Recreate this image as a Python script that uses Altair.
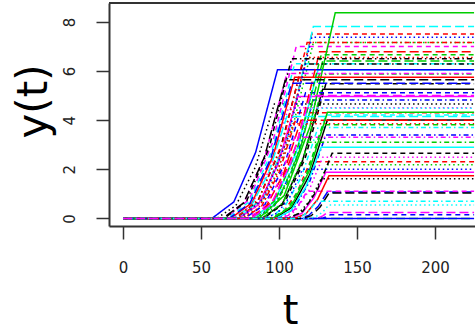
import altair as alt
import pandas as pd

# ---- data (one entry per curve, 60 curves) ----
# each curve: 0 until t_start, bends upward through two knees, reaches its
# plateau at t_end and stays flat to t_last
t_start = [89, 74, 76, 85, 74, 74, 90, 74, 89, 113,
           83, 66, 60, 77, 85, 57, 67, 70, 72, 82,
           87, 78, 84, 64, 64, 69, 83, 75, 92, 123,
           97, 94, 106, 99, 70, 107, 106, 76, 85, 68,
           98, 100, 105, 72, 100, 100, 95, 101, 65, 80,
           96, 126, 119, 79, 115, 110, 95, 91, 110, 82]
t_knee1 = [102, 89.7, 91.3, 97.3, 90, 86.7, 103.3, 88.7, 102.7, 119,
           97, 81, 72.3, 88.7, 99.3, 71, 81.3, 82, 86.3, 96.7,
           103.3, 91, 96, 77.7, 77.3, 82.7, 97.7, 90.3, 103, 125.7,
           108.3, 102.7, 114.3, 109.3, 81.7, 114.7, 115.3, 87, 95, 81.3,
           107.7, 106, 112.3, 87.3, 103.3, 103.3, 106.7, 110, 79.3, 91.3,
           107.7, 128.3, 123.3, 89.3, 120.7, 117.3, 106, 99, 114.7, 94.7]
y_knee1 = [0.58, 0.83, 0.80, 0.54, 0.87, 0.55, 0.61, 0.73, 0.65, 0.12,
           0.67, 0.78, 0.52, 0.48, 0.71, 0.67, 0.70, 0.50, 0.70, 0.75,
           0.93, 0.57, 0.50, 0.66, 0.63, 0.64, 0.74, 0.82, 0.41, 0.03,
           0.45, 0.26, 0.24, 0.38, 0.46, 0.21, 0.29, 0.43, 0.34, 0.61,
           0.32, 0.12, 0.18, 0.80, 0, 0, 0.47, 0.28, 0.72, 0.44,
           0.48, 0.02, 0.06, 0.37, 0.11, 0.19, 0.42, 0.22, 0.08, 0.56]
t_knee2 = [115, 105.3, 106.7, 109.7, 106, 99.3, 116.7, 103.3, 116.3, 125,
           111, 96, 84.7, 100.3, 113.7, 85, 95.7, 94, 100.7, 111.3,
           119.7, 104, 108, 91.3, 90.7, 96.3, 112.3, 105.7, 114, 128.3,
           119.7, 111.3, 122.7, 119.7, 93.3, 122.3, 124.7, 98, 105, 94.7,
           117.3, 112, 119.7, 102.7, 106.7, 106.7, 118.3, 119, 93.7, 102.7,
           119.3, 130.7, 127.7, 99.7, 126.3, 124.7, 117, 107, 119.3, 107.3]
y_knee2 = [2.34, 3.34, 3.18, 2.14, 3.47, 2.20, 2.44, 2.91, 2.61, 0.48,
           2.69, 3.11, 2.07, 1.91, 2.85, 2.69, 2.80, 2.00, 2.80, 3.02,
           3.72, 2.28, 1.99, 2.62, 2.51, 2.56, 2.96, 3.28, 1.64, 0.11,
           1.78, 1.03, 0.97, 1.51, 1.84, 0.84, 1.18, 1.71, 1.38, 2.44,
           1.29, 0.49, 0.72, 3.18, 0, 0, 1.87, 1.11, 2.89, 1.78,
           1.92, 0.07, 0.24, 1.47, 0.46, 0.77, 1.69, 0.89, 0.31, 2.22]
t_end = [128, 121, 122, 122, 122, 112, 130, 118, 130, 131,
         125, 111, 97, 112, 128, 99, 110, 106, 115, 126,
         136, 117, 120, 105, 104, 110, 127, 121, 125, 131,
         131, 120, 131, 130, 105, 130, 134, 109, 115, 108,
         127, 118, 127, 118, 110, 110, 130, 128, 108, 114,
         131, 133, 132, 110, 132, 132, 128, 115, 124, 120]
plateau = [5.26, 7.51, 7.16, 4.82, 7.81, 4.96, 5.48, 6.55, 5.88, 1.07,
           6.05, 7.0, 4.66, 4.3, 6.41, 6.05, 6.3, 4.5, 6.29, 6.79,
           8.37, 5.12, 4.48, 5.9, 5.64, 5.75, 6.66, 7.38, 3.7, 0.24,
           4.01, 2.31, 2.18, 3.4, 4.15, 1.88, 2.65, 3.85, 3.1, 5.5,
           2.9, 1.1, 1.61, 7.16, 0, 0, 4.21, 2.49, 6.5, 4.0,
           4.32, 0.15, 0.55, 3.3, 1.03, 1.74, 3.81, 2.0, 0.7, 5.0]
t_last = 225

x_ticks = [0, 50, 100, 150, 200]
y_ticks = [0, 2, 4, 6, 8]

palette = ["#000000", "#FF0000", "#00CD00", "#0000FF", "#00FFFF", "#FF00FF"]
dash_styles = [[1, 0], [5, 4], [1.5, 3], [1.5, 3, 5, 3], [9, 4]]

rows = []
names = []
colors = []
dashes = []
for j in range(len(plateau)):
    name = f"L{j:02d}"
    names.append(name)
    colors.append(palette[j % 6])
    dashes.append(dash_styles[j % 5])
    ts_ = [0, t_start[j], t_knee1[j], t_knee2[j], t_end[j], t_last]
    ys_ = [0, 0, y_knee1[j], y_knee2[j], plateau[j], plateau[j]]
    for k, (a, b) in enumerate(zip(ts_, ys_)):
        rows.append({"line": name, "k": k, "t": a, "y": b})
df = pd.DataFrame(rows)

W, H = 366, 223

lines = alt.Chart(df).mark_line(strokeWidth=1.5, clip=True).encode(
    x=alt.X("t:Q",
            scale=alt.Scale(domain=[-9, 225.6], nice=False, zero=False),
            axis=alt.Axis(values=x_ticks, title="t", labelAlign="center",
                          labelBaseline="alphabetic", labelPadding=33,
                          titleX=181, titleY=97, titleAlign="center",
                          titleBaseline="alphabetic", titleFontSize=40)),
    y=alt.Y("y:Q",
            scale=alt.Scale(domain=[-0.31, 8.77], nice=False, zero=False),
            axis=alt.Axis(values=y_ticks, title="y(t)", labelAngle=270,
                          labelAlign="center", labelBaseline="alphabetic",
                          labelPadding=22, titleAngle=270, titleX=-63,
                          titleY=98, titleAlign="center",
                          titleBaseline="alphabetic")),
    color=alt.Color("line:N", scale=alt.Scale(domain=names, range=colors), legend=None),
    strokeDash=alt.StrokeDash("line:N", scale=alt.Scale(domain=names, range=dashes), legend=None),
    order="k:Q",
)

top = alt.Chart(pd.DataFrame({"a": [0]})).mark_rule(color="#333333", strokeWidth=2).encode(
    x=alt.value(0), x2=alt.value(W), y=alt.value(0)
)

chart = alt.layer(lines, top).properties(
    width=W, height=H,
    autosize=alt.AutoSizeParams(type="none"),
    padding={"left": 109, "top": 3, "right": 0, "bottom": 108},
).configure_view(stroke=None).configure_axis(
    grid=False,
    labelFont="DejaVu Sans", labelFontSize=15, labelColor="#222222",
    tickColor="#333333", tickSize=13, tickWidth=1.5,
    domainColor="#333333", domainWidth=2,
    titleFont="DejaVu Sans", titleFontSize=42, titleFontWeight="normal",
    titleColor="#000000",
)

chart.save("out.html", embed_options={"renderer": "svg", "actions": False})
